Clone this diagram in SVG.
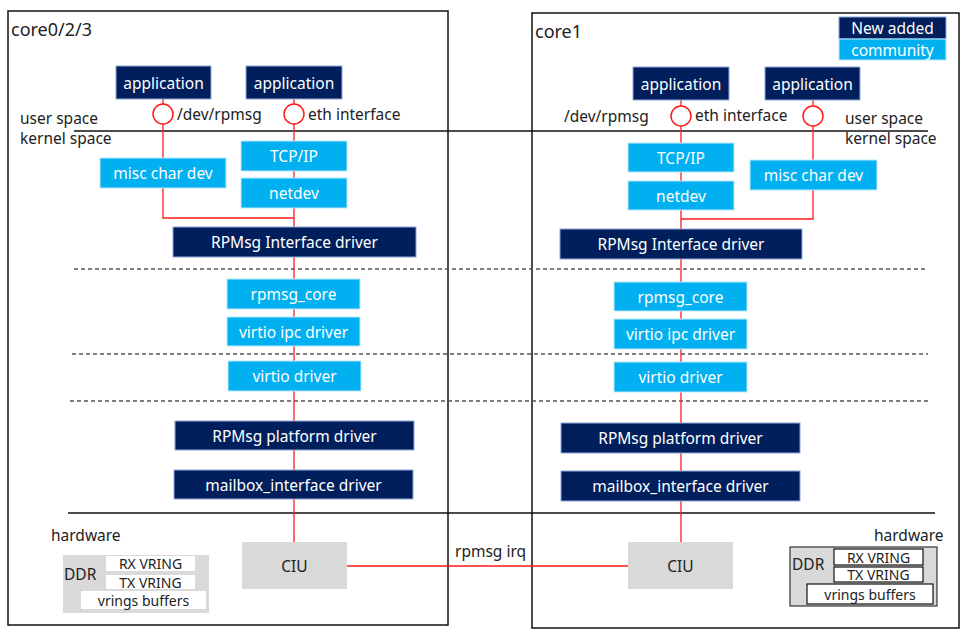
<svg xmlns="http://www.w3.org/2000/svg" width="973" height="636" viewBox="0 0 973 636">
<style>
text{font-family:"Noto Sans","Open Sans","Liberation Sans",sans-serif;font-size:15.5px;fill:#222}
.n rect{fill:#001F5C;stroke:#8FAADC;stroke-width:1}
.n text{fill:#fff;text-anchor:middle;dominant-baseline:central}
.c rect{fill:#00B0F0;stroke:#BDE9FA;stroke-width:1}
.c text{fill:#fff;text-anchor:middle;dominant-baseline:central}
.g rect{fill:#D9D9D9}
.g text{text-anchor:middle;dominant-baseline:central}
.w{fill:#fff}
.frame{fill:none;stroke:#111;stroke-width:1.5}
.red{stroke:#FF1A1A;stroke-width:1.3;fill:none}
.dash{stroke:#555;stroke-width:1.3;stroke-dasharray:4 3;fill:none}
.sep{stroke:#111;stroke-width:1.3;fill:none}
.ring{fill:#fff;stroke:#FF1A1A;stroke-width:1.5}
.s{font-size:14px;text-anchor:middle;dominant-baseline:central}
</style>
<rect width="973" height="636" fill="#fff"/>
<g id="frames">
<rect class="frame" x="8" y="11" width="440" height="614"/>
<rect class="frame" x="532" y="13" width="427" height="615"/>
<text x="11" y="36" style="font-size:18px">core0/2/3</text>
<text x="535" y="38" style="font-size:18px">core1</text>
</g>
<g id="separators">
<line class="sep" x1="74" y1="131" x2="928" y2="131"/>
<line class="dash" x1="74" y1="269" x2="928" y2="269"/>
<line class="dash" x1="72" y1="354" x2="928" y2="354"/>
<line class="dash" x1="70" y1="401" x2="928" y2="401"/>
<line class="sep" x1="68" y1="513" x2="935" y2="513"/>
</g>
<g id="connectors">
<line class="red" x1="163" y1="99" x2="163" y2="158"/>
<polyline class="red" points="163,188 163,218 294,218"/>
<line class="red" x1="294" y1="99" x2="294" y2="542"/>
<line class="red" x1="347" y1="566" x2="628" y2="566"/>
<line class="red" x1="681" y1="100" x2="681" y2="542"/>
<line class="red" x1="813" y1="100" x2="813" y2="160"/>
<polyline class="red" points="813,190 813,219 681,219"/>
<text x="455" y="557">rpmsg irq</text>
</g>
<g id="legend">
<g class="n"><rect x="839" y="17" width="107" height="22"/><text x="892.5" y="28">New added</text></g>
<g class="c"><rect x="839" y="39" width="107" height="21"/><text x="892.5" y="50">community</text></g>
</g>
<g id="left-user">
<g id="l-app1" class="n"><rect x="116" y="66" width="95" height="33"/><text x="163.5" y="82.5">application</text></g>
<g id="l-app2" class="n"><rect x="246" y="66" width="96" height="33"/><text x="294" y="82.5">application</text></g>
<g id="l-ring1"><circle class="ring" cx="163" cy="114" r="10"/><text x="177" y="120">/dev/rpmsg</text></g>
<g id="l-ring2"><circle class="ring" cx="294" cy="114" r="10"/><text x="308" y="120">eth interface</text></g>
<text x="20" y="124">user space</text>
<text x="20" y="144">kernel space</text>
</g>
<g id="l-tcpip" class="c"><rect x="241" y="141" width="106" height="30"/><text x="294" y="156">TCP/IP</text></g>
<g id="l-netdev" class="c"><rect x="241" y="178" width="106" height="30"/><text x="294" y="193">netdev</text></g>
<g id="l-misc" class="c"><rect x="100" y="158" width="126" height="30"/><text x="163" y="173">misc char dev</text></g>
<g id="l-rpmsgif" class="n"><rect x="173" y="227" width="243" height="30"/><text x="294.5" y="242">RPMsg Interface driver</text></g>
<g id="l-core" class="c"><rect x="227" y="279" width="133" height="30"/><text x="293.5" y="294">rpmsg_core</text></g>
<g id="l-vipc" class="c"><rect x="227" y="317" width="133" height="29"/><text x="293.5" y="331.5">virtio ipc driver</text></g>
<g id="l-virtio" class="c"><rect x="228" y="361" width="133" height="30"/><text x="294.5" y="376">virtio driver</text></g>
<g id="l-plat" class="n"><rect x="175" y="421" width="239" height="29"/><text x="294.5" y="435.5">RPMsg platform driver</text></g>
<g id="l-mbox" class="n"><rect x="174" y="470" width="239" height="29"/><text x="293.5" y="484.5">mailbox_interface driver</text></g>
<g id="l-ciu" class="g"><rect x="242" y="542" width="105" height="47"/><text x="294.5" y="565.5">CIU</text></g>
<text x="51" y="541">hardware</text>
<g id="l-ddr">
<rect x="63" y="555" width="146" height="58" fill="#D9D9D9"/>
<text x="64" y="580">DDR</text>
<rect class="w" x="106" y="556" width="89" height="15"/>
<text class="s" x="150.5" y="563.5">RX VRING</text>
<rect class="w" x="106" y="575" width="89" height="14"/>
<text class="s" x="150.5" y="582">TX VRING</text>
<rect class="w" x="81" y="591" width="125" height="18"/>
<text class="s" x="143.5" y="600">vrings buffers</text>
</g>
<g id="right-user">
<g id="r-app1" class="n"><rect x="633" y="67" width="96" height="33"/><text x="681" y="83.5">application</text></g>
<g id="r-app2" class="n"><rect x="765" y="67" width="95" height="33"/><text x="812.5" y="83.5">application</text></g>
<g id="r-ring1"><circle class="ring" cx="681" cy="116" r="10"/><text x="564" y="122">/dev/rpmsg</text><text x="695" y="121">eth interface</text></g>
<g id="r-ring2"><circle class="ring" cx="813" cy="116" r="10"/></g>
<text x="845" y="124">user space</text>
<text x="845" y="144">kernel space</text>
</g>
<g id="r-tcpip" class="c"><rect x="628" y="143" width="106" height="29"/><text x="681" y="157.5">TCP/IP</text></g>
<g id="r-netdev" class="c"><rect x="628" y="181" width="106" height="29"/><text x="681" y="195.5">netdev</text></g>
<g id="r-misc" class="c"><rect x="750" y="160" width="127" height="30"/><text x="813.5" y="175">misc char dev</text></g>
<g id="r-rpmsgif" class="n"><rect x="560" y="229" width="242" height="30"/><text x="681" y="244">RPMsg Interface driver</text></g>
<g id="r-core" class="c"><rect x="614" y="282" width="133" height="29"/><text x="680.5" y="296.5">rpmsg_core</text></g>
<g id="r-vipc" class="c"><rect x="614" y="319" width="133" height="30"/><text x="680.5" y="334">virtio ipc driver</text></g>
<g id="r-virtio" class="c"><rect x="614" y="362" width="133" height="30"/><text x="680.5" y="377">virtio driver</text></g>
<g id="r-plat" class="n"><rect x="561" y="423" width="239" height="30"/><text x="680.5" y="438">RPMsg platform driver</text></g>
<g id="r-mbox" class="n"><rect x="561" y="471" width="239" height="30"/><text x="680.5" y="486">mailbox_interface driver</text></g>
<g id="r-ciu" class="g"><rect x="628" y="542" width="105" height="47"/><text x="680.5" y="565.5">CIU</text></g>
<text x="874" y="541">hardware</text>
<g id="r-ddr">
<rect x="790" y="547" width="147" height="59" fill="#D9D9D9" stroke="#333" stroke-width="1.2"/>
<text x="792" y="570">DDR</text>
<rect class="w" x="834" y="549" width="89" height="16" stroke="#111" stroke-width="1.2"/>
<text class="s" x="878.5" y="557">RX VRING</text>
<rect class="w" x="834" y="567" width="89" height="15" stroke="#111" stroke-width="1.2"/>
<text class="s" x="878.5" y="574.5">TX VRING</text>
<rect class="w" x="807" y="584" width="126" height="20" stroke="#111" stroke-width="1.2"/>
<text class="s" x="870" y="594">vrings buffers</text>
</g>
</svg>
